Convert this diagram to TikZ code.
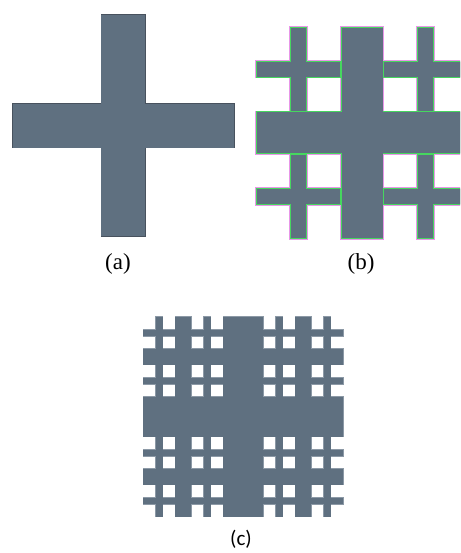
\documentclass[tikz,border=0pt]{standalone}
\usepackage{fontspec}
\setmainfont{Liberation Serif}
\newfontfamily\calfont{Carlito}
\definecolor{slate}{RGB}{95,112,128}
\definecolor{edgedark}{RGB}{72,82,94}
\definecolor{edgepink}{RGB}{232,150,232}
\definecolor{edgegreen}{RGB}{70,215,95}
\definecolor{blurc}{RGB}{140,153,166}
% #1 cx, #2 cy, #3 size, #4 level, #5 offset
\newcommand\fracshape[5]{%
  \fill ({#1-#3/10-(#5)}, {#2-#3/2-(#5)}) rectangle ({#1+#3/10+(#5)}, {#2+#3/2+(#5)});
  \fill ({#1-#3/2-(#5)}, {#2-#3/10-(#5)}) rectangle ({#1+#3/2+(#5)}, {#2+#3/10+(#5)});
  \ifnum#4>1
    \begingroup
    \pgfmathsetmacro\fxl{#1-0.3*#3}%
    \pgfmathsetmacro\fxr{#1+0.3*#3}%
    \pgfmathsetmacro\fyt{#2-0.3*#3}%
    \pgfmathsetmacro\fyb{#2+0.3*#3}%
    \pgfmathsetmacro\fns{0.4*#3}%
    \edef\fracnext{%
      \noexpand\fracshape{\fxl}{\fyt}{\fns}{\the\numexpr#4-1\relax}{#5}%
      \noexpand\fracshape{\fxr}{\fyt}{\fns}{\the\numexpr#4-1\relax}{#5}%
      \noexpand\fracshape{\fxl}{\fyb}{\fns}{\the\numexpr#4-1\relax}{#5}%
      \noexpand\fracshape{\fxr}{\fyb}{\fns}{\the\numexpr#4-1\relax}{#5}%
    }%
    \fracnext
    \endgroup
  \fi}
\begin{document}
\begin{tikzpicture}[x=1pt,y=-1pt,
  lbl/.style={inner sep=0pt, font=\fontsize{23}{26}\selectfont},
  lblc/.style={inner sep=0pt, font=\calfont\fontsize{21}{24}\selectfont}]
\useasboundingbox (0,0) rectangle (460,553);
\clip (0,0) rectangle (460,553);
% (a)
\begin{scope}[fill=edgedark]
  \fracshape{123.2}{125.8}{222}{1}{0.5}
\end{scope}
\begin{scope}[fill=slate]
  \fracshape{123.2}{125.8}{222}{1}{-0.4}
\end{scope}
% (b)
\begin{scope}[fill=edgepink]
  \fracshape{362.2}{132.7}{212}{2}{0.9}
\end{scope}
\begin{scope}[fill=edgegreen]
  \fracshape{362.2}{132.7}{212}{2}{0}
\end{scope}
\begin{scope}[fill=slate]
  \fracshape{362.2}{132.7}{212}{2}{-0.9}
\end{scope}
% (c)
\begin{scope}[fill=blurc]
  \fracshape{243.3}{416.7}{200}{3}{0.7}
\end{scope}
\begin{scope}[fill=slate]
  \fracshape{243.3}{416.7}{200}{3}{0}
\end{scope}
% labels
\node[lbl] (la) at (118,264) {(a)};
\node[lbl] (lb) at (361,264) {(b)};
\node[lblc] (lc) at (241,539) {(c)};
\end{tikzpicture}
\end{document}
